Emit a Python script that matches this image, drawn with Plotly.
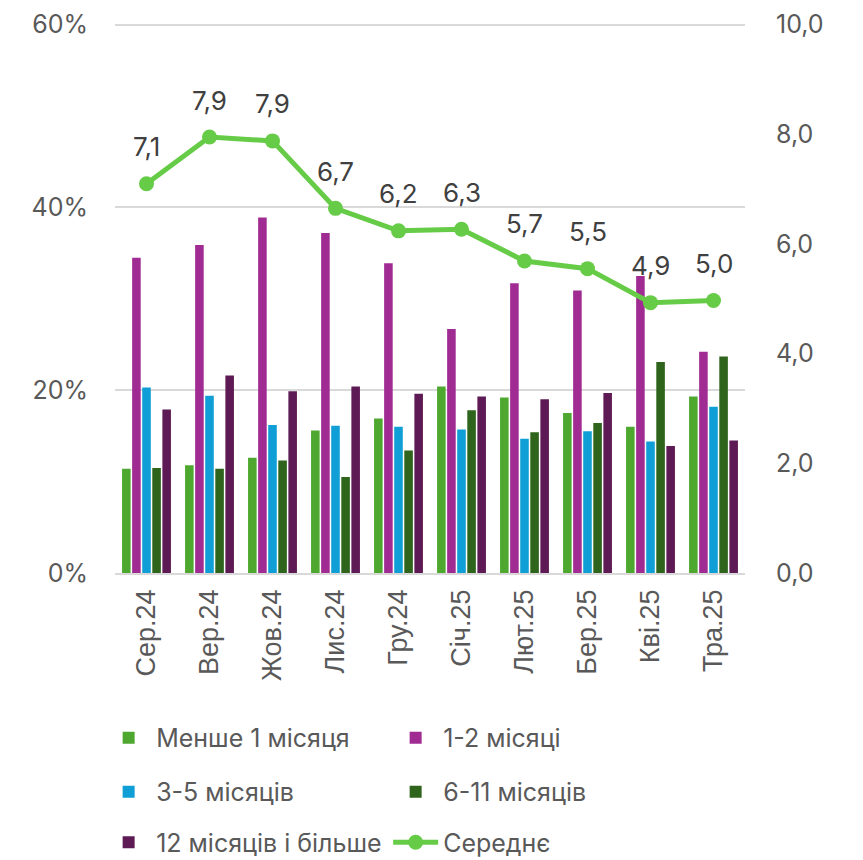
import plotly.graph_objects as go

categories = ["Сер.24", "Вер.24", "Жов.24", "Лис.24", "Гру.24",
              "Січ.25", "Лют.25", "Бер.25", "Кві.25", "Тра.25"]
less_1 = [11.4, 11.8, 12.6, 15.6, 16.9, 20.4, 19.2, 17.5, 16.0, 19.3]
m1_2 = [34.5, 35.9, 38.9, 37.2, 33.9, 26.7, 31.7, 30.9, 32.5, 24.2]
m3_5 = [20.3, 19.4, 16.2, 16.1, 16.0, 15.7, 14.7, 15.5, 14.4, 18.2]
m6_11 = [11.5, 11.4, 12.3, 10.5, 13.4, 17.8, 15.4, 16.4, 23.1, 23.7]
m12_plus = [17.9, 21.6, 19.9, 20.4, 19.6, 19.3, 19.0, 19.7, 13.9, 14.5]
average = [7.1, 7.95, 7.88, 6.65, 6.24, 6.27, 5.69, 5.55, 4.93, 4.97]
avg_labels = ["7,1", "7,9", "7,9", "6,7", "6,2", "6,3", "5,7", "5,5", "4,9", "5,0"]

series = [
    ("Менше 1 місяця", less_1, "#4EA72E", "legend"),
    ("1-2 місяці", m1_2, "#A02B93", "legend"),
    ("3-5 місяців", m3_5, "#0F9ED5", "legend2"),
    ("6-11 місяців", m6_11, "#2E641B", "legend2"),
    ("12 місяців і більше", m12_plus, "#5D1A54", "legend3"),
]

FONT = "Inter"
GRAY = "#595959"

fig = go.Figure()
for name, vals, color, lg in series:
    fig.add_trace(go.Bar(x=categories, y=vals, name=name, marker_color=color,
                         marker_line_width=0, legend=lg))
fig.add_trace(go.Scatter(x=categories, y=average, name="Середнє", yaxis="y2",
                         mode="lines+markers", legend="legend3",
                         line=dict(color="#66CC47", width=5),
                         marker=dict(color="#66CC47", size=15)))

for c, v, t in zip(categories, average, avg_labels):
    fig.add_annotation(x=c, y=v, yref="y2", text=t, showarrow=False,
                       yshift=37, font=dict(size=26, color="#404040", family=FONT))

legend_common = dict(orientation="h", xref="paper", yref="paper", x=-0.022,
                     xanchor="left", yanchor="middle", entrywidth=227,
                     entrywidthmode="pixels", itemwidth=45,
                     font=dict(size=25, color=GRAY, family=FONT),
                     bgcolor="rgba(0,0,0,0)")

fig.update_layout(
    width=863, height=860,
    margin=dict(l=107, r=126, t=13, b=295, autoexpand=False),
    plot_bgcolor="white", paper_bgcolor="white",
    barmode="group", bargap=0.2, bargroupgap=0.15,
    font=dict(family=FONT, color=GRAY, size=25),
    xaxis=dict(range=[-0.5, len(categories) - 0.5], tickangle=-90,
               tickfont=dict(size=27, color=GRAY, family="Liberation Sans"),
               showline=True, linecolor="#d9d9d9", linewidth=1.5, ticks="",
               ticklabelstandoff=4),
    yaxis=dict(range=[0, 60.4], tickvals=[0, 20, 40, 60], ticktext=["0%", "20%", "40%", "60%"],
               showgrid=True, gridcolor="#d9d9d9", gridwidth=1.5, zeroline=False,
               tickfont=dict(size=25, color=GRAY), ticklabelstandoff=26,
               ticklabeloverflow="allow"),
    yaxis2=dict(range=[0, 60.4 / 6], tickvals=[0, 2, 4, 6, 8, 10],
                ticktext=["0,0", "2,0", "4,0", "6,0", "8,0", "10,0"],
                overlaying="y", side="right", showgrid=False, zeroline=False,
                tickfont=dict(size=25, color=GRAY), ticklabelstandoff=30,
                ticklabeloverflow="allow"),
    legend=dict(legend_common, y=-0.2989),
    legend2=dict(legend_common, y=-0.3967),
    legend3=dict(legend_common, y=-0.4882),
    showlegend=True,
)

fig.write_html("out.html")
